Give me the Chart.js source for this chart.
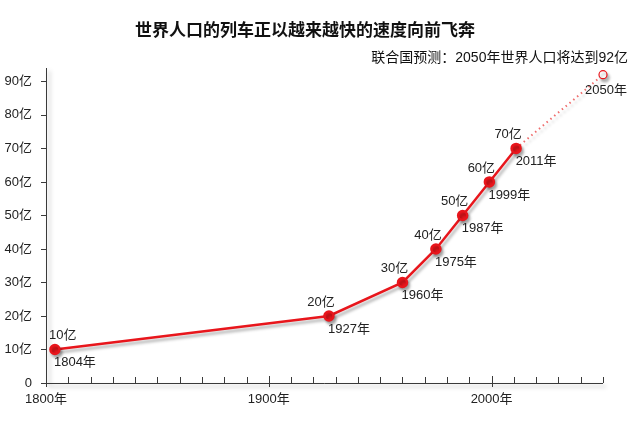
<!DOCTYPE html>
<html>
<head>
<meta charset="utf-8">
<script src="https://cdn.jsdelivr.net/npm/chart.js@4/dist/chart.umd.min.js"></script>
<style>
  html, body { margin: 0; padding: 0; background: #fff; }
  #wrap { width: 640px; height: 432px; }
</style>
</head>
<body>
<div id="wrap"><canvas id="popChart" width="640" height="432"></canvas></div>
<script>
const years = [1804, 1927, 1960, 1975, 1987, 1999, 2011]
const population = [10, 20, 30, 40, 50, 60, 70]
const projYears = [2011, 2050]
const projPopulation = [70, 92]
const yTicks = [0, 10, 20, 30, 40, 50, 60, 70, 80, 90]
const xTicks = [1800, 1900, 2000]

const title = "世界人口的列车正以越来越快的速度向前飞奔"
const subtitle = "联合国预测：2050年世界人口将达到92亿"

const labelFont = "13px 'Liberation Sans', 'Noto Sans CJK SC', sans-serif"
const red = "#e8161c"

const pointsOf = (xs, ys) => xs.map((x, i) => ({ x: x, y: ys[i] }))

// axes lines + tick marks, with a soft shadow
const axesPlugin = {
  id: "axesDraw",
  beforeDatasetsDraw(chart) {
    const { ctx, chartArea, scales } = chart
    const xs = scales.x, ys = scales.y
    ctx.save()
    ctx.strokeStyle = "#3a3a3a"
    ctx.lineWidth = 1
    ctx.shadowColor = "rgba(0,0,0,0.35)"
    ctx.shadowBlur = 4
    ctx.shadowOffsetX = 3
    ctx.shadowOffsetY = 3
    ctx.beginPath()
    ctx.moveTo(chartArea.left + 0.5, chartArea.top)
    ctx.lineTo(chartArea.left + 0.5, chartArea.bottom + 0.5)
    ctx.lineTo(chartArea.right, chartArea.bottom + 0.5)
    ctx.stroke()
    ctx.shadowColor = "transparent"
    ctx.beginPath()
    for (let v = 1800; v <= 2050; v += 10) {
      const px = Math.round(xs.getPixelForValue(v)) + 0.5
      if (v % 100 === 0) {
        ctx.moveTo(px, chartArea.bottom - 7)
        ctx.lineTo(px, chartArea.bottom + 4)
      } else {
        ctx.moveTo(px, chartArea.bottom - 6)
        ctx.lineTo(px, chartArea.bottom)
      }
    }
    yTicks.forEach(v => {
      const py = Math.round(ys.getPixelForValue(v)) + 0.5
      ctx.moveTo(chartArea.left - 5, py)
      ctx.lineTo(chartArea.left, py)
    })
    ctx.stroke()
    ctx.restore()
  }
}

// shadow under the data lines
const shadowPlugin = {
  id: "lineShadow",
  beforeDatasetDraw(chart) {
    const ctx = chart.ctx
    ctx.save()
    ctx.shadowColor = "rgba(0,0,0,0.3)"
    ctx.shadowBlur = 3
    ctx.shadowOffsetX = 2
    ctx.shadowOffsetY = 3
  },
  afterDatasetDraw(chart) {
    chart.ctx.restore()
  }
}

// value / year labels next to the points, and the two titles
const labelPlugin = {
  id: "pointLabels",
  afterDatasetsDraw(chart) {
    const { ctx, chartArea } = chart
    ctx.save()
    ctx.font = labelFont
    ctx.fillStyle = "#222"
    ctx.textBaseline = "middle"
    ctx.textAlign = "center"
    const meta = chart.getDatasetMeta(0)
    meta.data.forEach((pt, i) => {
      const valText = population[i] + "亿"
      const yrText = years[i] + "年"
      let vx = pt.x - 8
      const vw = ctx.measureText(valText).width
      if (vx - vw / 2 < chartArea.left + 3) vx = chartArea.left + 3 + vw / 2
      let yx = pt.x + 20
      const yw = ctx.measureText(yrText).width
      if (yx - yw / 2 < chartArea.left + 1) yx = chartArea.left + 1 + yw / 2
      ctx.fillText(valText, vx, pt.y - 14)
      ctx.fillText(yrText, yx, pt.y + 13)
    })
    const pm = chart.getDatasetMeta(1)
    const last = pm.data[pm.data.length - 1]
    ctx.fillText(projYears[projYears.length - 1] + "年", last.x + 3, last.y + 16)

    ctx.font = "bold 17px 'Noto Sans CJK SC', serif"
    ctx.fillStyle = "#111"
    ctx.fillText(title, 305, 30)
    ctx.font = "14px 'Liberation Sans', 'Noto Sans CJK SC', sans-serif"
    ctx.textAlign = "right"
    ctx.fillText(subtitle, 628, 58)
    ctx.restore()
  }
}

new Chart(document.getElementById("popChart").getContext("2d"), {
  type: "line",
  data: {
    datasets: [{
      label: "人口",
      data: pointsOf(years, population),
      borderColor: red,
      borderWidth: 2.5,
      backgroundColor: red,
      pointBackgroundColor: red,
      pointBorderColor: red,
      pointRadius: 4.5,
      clip: false,
      tension: 0
    }, {
      label: "预测",
      data: pointsOf(projYears, projPopulation),
      borderColor: "rgba(232,60,60,0.75)",
      borderWidth: 2,
      borderDash: [1.5, 3.5],
      pointRadius: [0, 4],
      pointBackgroundColor: "#fff",
      pointBorderColor: red,
      pointBorderWidth: 1.2,
      clip: false,
      tension: 0
    }]
  },
  options: {
    responsive: false,
    animation: false,
    events: [],
    layout: { padding: { top: 68, right: 37, left: 0, bottom: 0 } },
    plugins: {
      legend: { display: false },
      tooltip: { enabled: false }
    },
    scales: {
      x: {
        type: "linear",
        min: 1800,
        max: 2050,
        afterFit: s => { s.height = 49 },
        afterBuildTicks: s => { s.ticks = xTicks.map(v => ({ value: v })) },
        grid: { display: false },
        border: { display: false },
        ticks: {
          padding: 1,
          maxRotation: 0,
          autoSkip: false,
          color: "#222",
          font: { family: "'Liberation Sans', 'Noto Sans CJK SC', sans-serif", size: 13 },
          callback: v => v + "年"
        }
      },
      y: {
        min: 0,
        max: 94,
        afterFit: s => { s.width = 46 },
        afterBuildTicks: s => { s.ticks = yTicks.map(v => ({ value: v })) },
        grid: { display: false },
        border: { display: false },
        ticks: {
          padding: 6,
          color: "#222",
          font: { family: "'Liberation Sans', 'Noto Sans CJK SC', sans-serif", size: 13 },
          callback: v => v === 0 ? "0" : v + "亿"
        }
      }
    }
  },
  plugins: [axesPlugin, shadowPlugin, labelPlugin]
})
</script>
</body>
</html>
